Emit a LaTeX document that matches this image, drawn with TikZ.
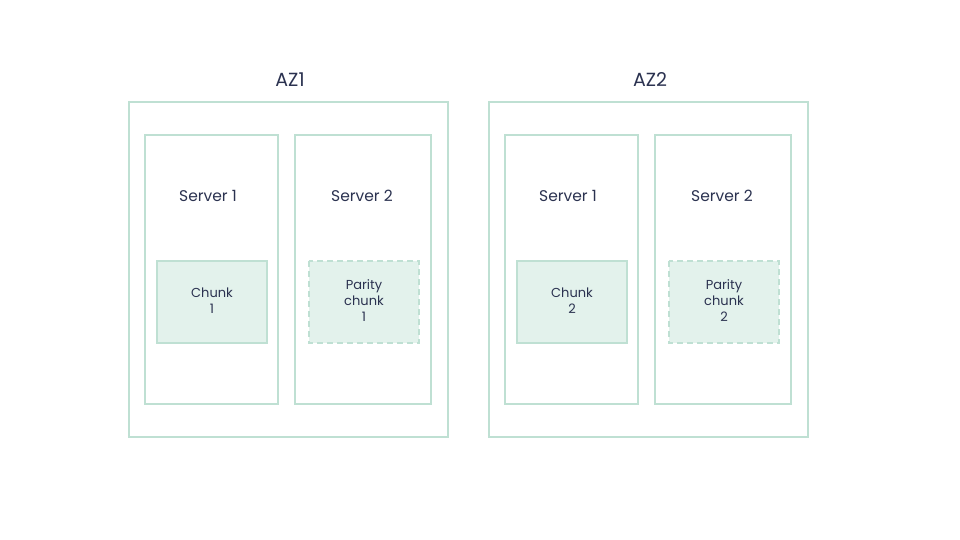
\documentclass[tikz,border=0pt]{standalone}
\usepackage{fontspec}
\setmainfont{Poppins}
\definecolor{edge}{HTML}{BFE0D3}
\definecolor{chunkfill}{HTML}{E3F2EC}
\definecolor{txt}{HTML}{2B3250}
\begin{document}
\begin{tikzpicture}[x=1pt,y=-1pt,
  box/.style={draw=edge,line width=1.8pt,fill=white},
  chunkbox/.style={draw=edge,line width=1.8pt,fill=chunkfill},
  paritybox/.style={chunkbox,dash pattern=on 6pt off 4pt},
  lbl/.style={text=txt,font=\fontsize{15.5}{18}\selectfont,inner sep=0pt},
  azlbl/.style={text=txt,font=\fontsize{19}{22}\selectfont,inner sep=0pt},
  clbl/.style={text=txt,font=\fontsize{13}{16}\selectfont,align=center,inner sep=0pt}]
\useasboundingbox (0,0) rectangle (960,540);
% AZ1
\draw[box] (129,102) rectangle (448,437);
\node[azlbl] (az1) at (290,80) {AZ1};
\draw[box] (145,135) rectangle (278,404);
\draw[box] (295,135) rectangle (431,404);
\node[lbl] (s11) at (208,196) {Server 1};
\node[lbl] (s12) at (362,196) {Server 2};
\draw[chunkbox] (157,261) rectangle (267,343);
\draw[paritybox] (309,261) rectangle (419,343);
\node[clbl] (c1) at (212,301) {Chunk\\1};
\node[clbl] (p1) at (364,301) {Parity\\chunk\\1};
% AZ2
\draw[box] (489,102) rectangle (808,437);
\node[azlbl] (az2) at (650,80) {AZ2};
\draw[box] (505,135) rectangle (638,404);
\draw[box] (655,135) rectangle (791,404);
\node[lbl] (s21) at (568,196) {Server 1};
\node[lbl] (s22) at (722,196) {Server 2};
\draw[chunkbox] (517,261) rectangle (627,343);
\draw[paritybox] (669,261) rectangle (779,343);
\node[clbl] (c2) at (572,301) {Chunk\\2};
\node[clbl] (p2) at (724,301) {Parity\\chunk\\2};
\end{tikzpicture}
\end{document}
